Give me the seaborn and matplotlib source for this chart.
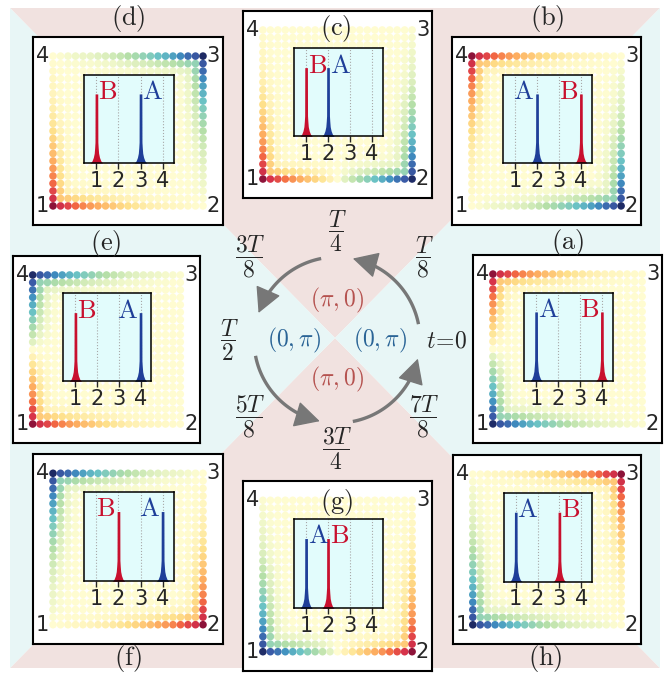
import numpy as np
import pandas as pd
import matplotlib
matplotlib.use('Agg')
import matplotlib.pyplot as plt
import seaborn as sns
from matplotlib.colors import LinearSegmentedColormap

sns.set_style('white')
plt.rcParams['font.family'] = ['DejaVu Sans']
plt.rcParams['mathtext.fontset'] = 'cm'

W, H = 670, 673

# ---- data ----
panel_names = ['a', 'b', 'c', 'd', 'e', 'f', 'g', 'h']
site_A = [1, 2, 2, 3, 4, 4, 1, 1]
site_B = [4, 4, 1, 1, 1, 2, 2, 3]
side_A = ['right', 'left', 'right', 'right', 'left', 'left', 'right', 'right']
side_B = ['left', 'left', 'right', 'right', 'right', 'left', 'right', 'right']

# density along an edge, counted from the occupied corner (21 sites)
edge_profile = [1.0, 0.82, 0.74, 0.62, 0.53, 0.46, 0.4, 0.34, 0.29, 0.24, 0.2,
                0.16, 0.13, 0.1, 0.08, 0.06, 0.05, 0.04, 0.03, 0.02, 0.015]
# decay going inwards from the edge
depth_profile = [1.0, 0.36, 0.1, 0.03]

# peak shape in the insets (offset from site, relative height)
peak_offsets = [-0.28, -0.2, -0.14, -0.1, -0.08, -0.065, -0.06,
                0.06, 0.065, 0.08, 0.1, 0.14, 0.2, 0.28]
peak_heights = [0.0, 0.03, 0.08, 0.14, 0.22, 0.3, 1.0,
                1.0, 0.3, 0.22, 0.14, 0.08, 0.03, 0.0]
inset_sites = [1, 2, 3, 4]

# panel boxes in pixels (left, top, right, bottom) and label centres
boxes = {'a': (473, 255, 662, 443), 'b': (452, 37, 641, 225),
         'c': (243, 11, 432, 198), 'd': (33, 37, 223, 225),
         'e': (13, 256, 200, 443), 'f': (33, 454, 223, 644),
         'g': (243, 481, 432, 671), 'h': (453, 455, 641, 644)}
label_pos = {'a': (568, 242), 'b': (547, 18), 'c': (336, 29), 'd': (128, 18),
             'e': (106, 243), 'f': (128, 658), 'g': (337, 502), 'h': (545, 658)}

# time cycle in the middle
time_labels = [r'$t\!=\!0$', r'$\dfrac{T}{8}$', r'$\dfrac{T}{4}$', r'$\dfrac{3T}{8}$',
               r'$\dfrac{T}{2}$', r'$\dfrac{5T}{8}$', r'$\dfrac{3T}{4}$', r'$\dfrac{7T}{8}$']
time_pos = [(447, 341), (424, 257), (337, 231), (250, 257),
            (229, 340), (250, 417), (337, 449), (424, 417)]
arc_start = [11, 101, 191, 281]
arc_end = [79, 161, 258, 347]

col_A = '#1f3f99'
col_B = '#c8102e'
col_pi0 = '#b5524f'
col_0pi = '#2a6496'
pink = '#f1e2e0'
cyan = '#e8f6f6'

cmap = LinearSegmentedColormap.from_list('dens', [
    '#1e2a64', '#3b5ca8', '#3f8fc0', '#6cc3c4', '#b5dfa8', '#fffdd2',
    '#fee08b', '#fdae61', '#f46d43', '#d9344a', '#8c1339'])

N = len(edge_profile)
corners = {1: (0, 0), 2: (N - 1, 0), 3: (N - 1, N - 1), 4: (0, N - 1)}
I, J = np.meshgrid(np.arange(N), np.arange(N))
edge = np.array(edge_profile)
depth = np.array(depth_profile + [0.0] * (N - len(depth_profile)))


def corner_field(c):
    cx, cy = corners[c]
    dx = np.abs(I - cx)
    dy = np.abs(J - cy)
    return np.maximum(edge[dx] * depth[dy], edge[dy] * depth[dx])


fig = plt.figure(figsize=(W / 100, H / 100), dpi=100)

# background with the X shape, arrows and labels
bg = fig.add_axes([0, 0, 1, 1])
bg.set_xlim(0, W)
bg.set_ylim(H, 0)
bg.axis('off')
tl, tr, br, bl = (10, 8), (660, 8), (660, 668), (10, 668)
cc = (335, 338)
for tri, col in [((tl, tr, cc), pink), ((bl, br, cc), pink),
                 ((tl, bl, cc), cyan), ((tr, br, cc), cyan)]:
    bg.fill([p[0] for p in tri], [p[1] for p in tri], color=col, lw=0)

cx0, cy0, r0 = 337, 340, 83
gray = '#777777'
for a0, a1 in zip(arc_start, arc_end):
    th = np.radians(np.linspace(a0, a1 - 7, 60))
    bg.plot(cx0 + r0 * np.cos(th), cy0 - r0 * np.sin(th), color=gray, lw=2.4,
            solid_capstyle='butt')
    t1, t2 = np.radians(a1 - 9), np.radians(a1)
    bg.annotate('', xy=(cx0 + r0 * np.cos(t2), cy0 - r0 * np.sin(t2)),
                xytext=(cx0 + r0 * np.cos(t1), cy0 - r0 * np.sin(t1)),
                arrowprops=dict(arrowstyle='-|>,head_length=0.8,head_width=0.42',
                                color=gray, lw=1, mutation_scale=20,
                                shrinkA=0, shrinkB=0))

for txt, (x, y) in zip(time_labels, time_pos):
    bg.text(x, y, txt, ha='center', va='center', fontsize=17)
bg.text(337, 300, r'$(\pi,0)$', color=col_pi0, ha='center', va='center', fontsize=17)
bg.text(337, 379, r'$(\pi,0)$', color=col_pi0, ha='center', va='center', fontsize=17)
bg.text(294, 340, r'$(0,\pi)$', color=col_0pi, ha='center', va='center', fontsize=17)
bg.text(380, 340, r'$(0,\pi)$', color=col_0pi, ha='center', va='center', fontsize=17)

# the eight panels
for k, name in enumerate(panel_names):
    l, t, r, b = boxes[name]
    ax = fig.add_axes([l / W, 1 - b / H, (r - l) / W, (b - t) / H])
    ax.set_facecolor('white')
    field = np.clip(corner_field(site_B[k]) - corner_field(site_A[k]), -1, 1)
    df = pd.DataFrame({'x': I.ravel(), 'y': J.ravel(), 'v': field.ravel()})
    sns.scatterplot(data=df, x='x', y='y', hue='v', palette=cmap, hue_norm=(-1, 1),
                    s=30, linewidth=0, alpha=1.0, legend=False, ax=ax)
    ax.set_xlim(-2.67, N - 1 + 2.67)
    ax.set_ylim(-2.55, N - 1 + 2.55)
    ax.set_xticks([])
    ax.set_yticks([])
    ax.set_xlabel('')
    ax.set_ylabel('')
    for sp in ax.spines.values():
        sp.set_visible(True)
        sp.set_color('black')
        sp.set_linewidth(1.5)
    for c, (gx, gy) in corners.items():
        ax.text(gx + (1.4 if gx > 0 else -1.4), gy, str(c), ha='center',
                va='center', fontsize=15)

    ins = ax.inset_axes([0.27, 0.33, 0.47, 0.47])
    ins.set_facecolor('#e2fcfc')
    ins.set_xlim(0.45, 4.5)
    ins.set_ylim(0, 1.28)
    ins.set_xticks(inset_sites)
    ins.set_yticks([])
    ins.grid(axis='x', ls=':', color='#a8a8a8', lw=0.8)
    ins.tick_params(axis='x', direction='out', length=4, width=1, labelsize=15,
                    pad=1.5, bottom=True)
    for sp in ins.spines.values():
        sp.set_visible(True)
        sp.set_color('black')
        sp.set_linewidth(1.1)
    for site, col, lab, side in [(site_A[k], col_A, 'A', side_A[k]),
                                 (site_B[k], col_B, 'B', side_B[k])]:
        xs = np.array(peak_offsets) + site
        ins.fill_between(xs, 0, peak_heights, color=col, lw=0)
        if side == 'right':
            ins.text(site + 0.07, 0.95, r'$\mathrm{%s}$' % lab, color=col,
                     ha='left', va='top', fontsize=19,
                     transform=ins.get_xaxis_transform())
        else:
            ins.text(site - 0.13, 0.95, r'$\mathrm{%s}$' % lab, color=col,
                     ha='right', va='top', fontsize=19,
                     transform=ins.get_xaxis_transform())

for name, (x, y) in label_pos.items():
    fig.text(x / W, 1 - y / H, r'$\mathrm{(%s)}$' % name, ha='center', va='center',
             fontsize=19)

fig.savefig('out.png', dpi=100)
